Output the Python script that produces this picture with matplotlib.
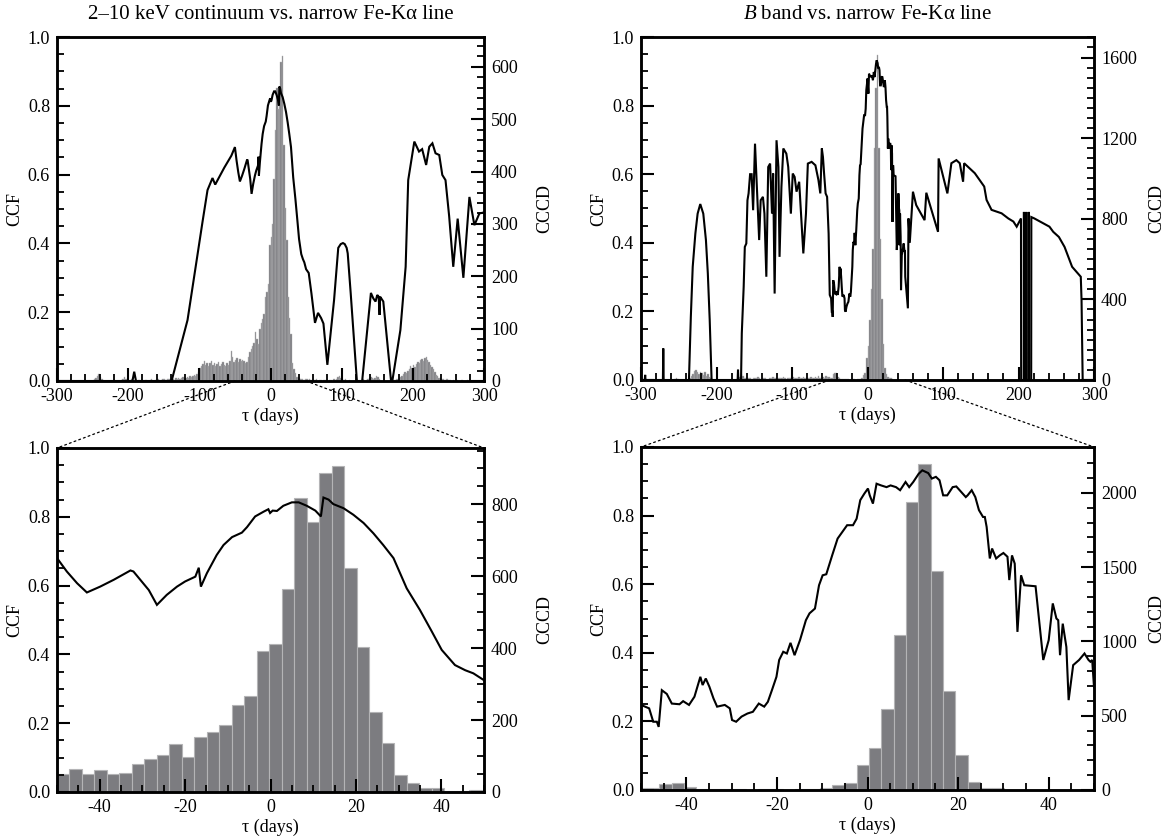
import numpy as np
import matplotlib
matplotlib.use("Agg")
import matplotlib.pyplot as plt
from matplotlib.patches import ConnectionPatch
from matplotlib.ticker import MultipleLocator, FormatStrFormatter

plt.rcParams['font.family'] = ['Liberation Serif', 'DejaVu Serif']
plt.rcParams['mathtext.fontset'] = 'custom'
plt.rcParams['mathtext.rm'] = 'Liberation Serif'
plt.rcParams['mathtext.it'] = 'Liberation Serif:italic'
plt.rcParams['axes.unicode_minus'] = False

# ---- CCF curves (tau in days, CCF) ----
xray_tau = [-300, -194, -191.5, -189, -139, -116.6, -95.5, -88.5, -81.5, -77.7, -65, -55,
            -50.0, -47.7, -45.3, -43.0, -39.9, -36.7, -32.8, -32.1, -30.5, -28.5, -26.6, -24.3,
            -21.9, -20.0, -17.6, -16.8, -16.3, -14.9, -12.6, -11.0, -9.0, -6.7, -5.5, -3.6,
            -1.6, -0.5, -0.1, 0.5, 1.5, 3.0, 5.0, 6.6, 8.5, 10.5, 11.8, 12.4, 13.6, 14.7,
            17.1, 19.4, 21.8, 24.1, 26.4, 28.8, 31.9, 35.0, 37.8, 40.1, 43.2, 45.6, 47.5, 50.0,
            53.7, 57.5, 62.5, 66.8, 71.1, 74.4, 79.9, 89.3, 95.2, 98.7, 101.8, 104.3, 107.0,
            108.5, 112.7, 121.4, 128.8, 141.1, 144.5, 147.6, 150.0, 152.0, 153.3, 154.0, 156.3,
            158.5, 169.4, 171.2, 182.5, 189.9, 193.5, 202.1, 208.7, 213.1, 218.7, 223.1, 227.5,
            231.9, 237.1, 241.4, 245.9, 251.0, 256.8, 263.0, 271.0, 279.5, 286.5, 293.5, 300.0]
xray_ccf = [0, 0, 0.027, 0, 0, 0.177, 0.463, 0.555, 0.59, 0.571, 0.62, 0.655,
            0.680, 0.641, 0.607, 0.580, 0.597, 0.617, 0.644, 0.641, 0.617, 0.587, 0.544, 0.573,
            0.597, 0.612, 0.626, 0.652, 0.597, 0.636, 0.689, 0.718, 0.741, 0.754, 0.770, 0.801,
            0.815, 0.822, 0.811, 0.818, 0.817, 0.832, 0.842, 0.842, 0.832, 0.818, 0.801, 0.856,
            0.850, 0.837, 0.825, 0.806, 0.782, 0.752, 0.718, 0.680, 0.592, 0.529, 0.466, 0.413,
            0.369, 0.354, 0.345, 0.325,
            0.314, 0.255, 0.169, 0.198, 0.183, 0.167, 0.047, 0.235, 0.387, 0.398, 0.401, 0.398,
            0.387, 0.371, 0.255, 0, 0, 0.256, 0.24, 0.231, 0.25, 0.245, 0.192, 0.245, 0.238,
            0.231, 0, 0, 0.148, 0.332, 0.584, 0.696, 0.667, 0.674, 0.628, 0.681, 0.691,
            0.662, 0.657, 0.599, 0.584, 0.48, 0.332, 0.472, 0.30, 0.535, 0.453, 0.487, 0.49]

bband_tau = [-300, -295, -294.5, -294, -271, -270.5, -270, -236.5, -234, -231.5, -228, -225,
             -221.5, -217.5, -214, -211.5, -209, -206.5, -172, -171.5, -171, -167.5, -166.5,
             -164, -162.5, -160.5, -159, -157.5, -155.5, -153.5, -151.5, -149, -146.5, -143.5,
             -141.5, -138.5, -136.5, -134, -131.5, -129, -126.5, -125, -123, -120.5, -118,
             -116.5, -114, -111.5, -107.5, -105, -101.5, -99, -96.5, -94, -90.5, -85, -81.5,
             -79, -74, -69, -65, -62.5, -60.5, -59, -57.5, -55.5, -53.5, -51.5,
             -50.0, -48.2, -47.3, -46.5, -46.1, -45.4, -44.3, -43.2, -41.5, -40.7, -39.4, -38.2,
             -36.9, -36.4, -35.7, -34.9, -34.0, -33.2, -31.5, -30.4, -29.9, -29.0, -27.8, -26.5,
             -25.3, -24.0, -22.8, -22.0, -21.1, -20.1, -19.5, -18.6, -17.8, -17.0, -16.1, -14.9,
             -13.6, -12.8, -11.6, -10.7, -9.9, -9.1, -7.8, -6.6, -5.3, -4.5, -3.2, -2.4, -1.6,
             -0.7, 0.1, 0.5, 1.2, 2.0, 3.0, 4.2, 5.1, 6.3, 7.2, 8.4, 9.2, 10.1, 11.3, 12.1, 13.4,
             14.2, 15.1, 15.9, 16.7, 17.6, 18.8, 19.6, 20.9, 21.7, 22.1, 23.0, 23.8, 24.6, 25.5,
             25.9, 26.3, 27.0, 27.5, 28.4, 29.2, 30.0, 30.9, 31.3, 31.9, 32.5, 33.1, 33.9, 34.6,
             37.1, 38.8, 40.0, 40.9, 41.7, 42.1, 42.5, 43.1, 43.9, 44.4, 45.4, 46.7, 47.9, 48.8,
             49.2, 49.6, 50.0,
             53.5, 54.3, 56.0, 60.2, 64.5, 75.6, 77.9, 93.4, 94.2, 105.8, 111.1, 117.7, 122.2,
             126.6, 128.0, 142.1, 154.6, 157.7, 164.3, 177.6, 186.5, 193.2, 197.6, 203.3, 203.5,
             207.0, 207.2, 207.4, 210.0, 210.2, 210.4, 213.5, 213.7, 213.9, 216.8, 217.0,
             221.0, 233.5, 241.0, 246.0, 253.5, 261.0, 266.0, 271.0, 278.5, 282.5,
             283.5, 285.0, 300.0]
bband_ccf = [0, 0, 0.015, 0, 0, 0.092, 0, 0, 0.184, 0.33, 0.427, 0.485,
             0.513, 0.485, 0.408, 0.311, 0.175, 0, 0, 0.03, 0, 0, 0.136,
             0.272, 0.388, 0.398, 0.524, 0.544, 0.60, 0.60, 0.495, 0.689, 0.563, 0.408,
             0.524, 0.534, 0.485, 0.301, 0.621, 0.631, 0.485, 0.602, 0.252, 0.699, 0.621,
             0.359, 0.563, 0.675, 0.66, 0.621, 0.485, 0.602, 0.592, 0.549, 0.578, 0.369, 0.485,
             0.631, 0.636, 0.626, 0.583, 0.544, 0.675, 0.65, 0.602, 0.544, 0.534, 0.427,
             0.248, 0.238, 0.199, 0.199, 0.184, 0.291, 0.280, 0.252, 0.250, 0.259, 0.248, 0.272,
             0.330, 0.306, 0.325, 0.301, 0.267, 0.243, 0.248, 0.238, 0.204, 0.199, 0.214, 0.223,
             0.228, 0.252, 0.243, 0.257, 0.291, 0.330, 0.379, 0.403, 0.398, 0.429, 0.393, 0.437,
             0.495, 0.515, 0.529, 0.597, 0.626, 0.629, 0.684, 0.733, 0.757, 0.772, 0.772, 0.791,
             0.845, 0.864, 0.879, 0.859, 0.835, 0.893, 0.888, 0.883, 0.888, 0.883, 0.874, 0.898,
             0.883, 0.898, 0.922, 0.932, 0.924, 0.908, 0.913, 0.903, 0.859, 0.859, 0.883, 0.885,
             0.866, 0.854, 0.859, 0.874, 0.854, 0.816, 0.796, 0.796, 0.767, 0.675, 0.704, 0.675,
             0.684, 0.691, 0.680, 0.612, 0.684, 0.660, 0.461, 0.626, 0.597, 0.594, 0.379, 0.437,
             0.544, 0.500, 0.495, 0.393, 0.485, 0.417, 0.262, 0.364, 0.379, 0.398, 0.379, 0.374,
             0.379, 0.301,
             0.209, 0.471, 0.40, 0.549, 0.510, 0.466, 0.546, 0.432, 0.646, 0.544, 0.632, 0.641,
             0.632, 0.578, 0.632, 0.603, 0.564, 0.525, 0.496, 0.486, 0.471, 0.462, 0.447, 0.471,
             0, 0, 0.49, 0, 0, 0.49, 0, 0, 0.49, 0, 0, 0.475,
             0.471, 0.456, 0.447, 0.432, 0.417, 0.388, 0.359, 0.330, 0.311, 0.301,
             0.233, 0, 0]

# ---- CCCD histograms ----
# top panels: 2-day bins from -300 to 300
top_bin_start, top_bin_width = -300, 2
xray_top_counts = [
    0, 0, 0, 0, 0, 0, 0, 0, 0, 0,
    0, 0, 0, 0, 0, 0, 0, 0, 0, 0,
    0, 0, 0, 0, 0, 0, 3, 6, 10, 14,
    8, 3, 0, 0, 0, 0, 0, 0, 0, 0,
    0, 0, 0, 0, 0, 2, 4, 8, 3, 0,
    0, 0, 3, 2, 0, 0, 0, 2, 0, 0,
    0, 0, 2, 0, 0, 2, 3, 0, 0, 2,
    2, 3, 0, 2, 3, 4, 2, 3, 4, 3,
    3, 4, 2, 5, 3, 6, 4, 5, 7, 5,
    6, 8, 5, 9, 7, 10, 12, 9, 14, 18,
    24, 28, 33, 38, 30, 35, 28, 34, 38, 30,
    35, 28, 32, 36, 28, 33, 37, 30, 29, 35,
    30, 38, 57, 45, 36, 40, 44, 36, 42, 38,
    41, 38, 35, 36, 45, 55, 62, 66, 72, 94,
    80, 70, 100, 110, 118, 128, 160, 170, 185, 260,
    275, 300, 385, 480, 560, 520, 560, 610, 621, 450,
    330, 270, 160, 120, 90, 35, 22, 16, 8, 8,
    6, 3, 3, 2, 3, 4, 2, 3, 1, 2,
    2, 1, 3, 0, 2, 1, 0, 2, 1, 0,
    0, 2, 1, 0, 3, 2, 4, 8, 10, 5,
    4, 2, 3, 0, 0, 2, 0, 0, 0, 0,
    0, 0, 0, 0, 2, 3, 0, 2, 4, 6,
    8, 5, 4, 6, 10, 8, 3, 0, 0, 0,
    0, 0, 0, 0, 0, 2, 0, 2, 3, 4,
    6, 8, 10, 14, 18, 16, 20, 22, 28, 24,
    30, 26, 32, 36, 34, 40, 42, 38, 44, 46,
    40, 36, 30, 26, 22, 18, 12, 10, 6, 5,
    4, 3, 2, 3, 4, 2, 2, 0, 2, 0,
    0, 2, 0, 0, 2, 0, 0, 0, 2, 0,
    0, 0, 0, 0, 0, 0, 0, 0, 0, 0]
bband_top_counts = [
    0, 0, 0, 0, 0, 0, 0, 0, 0, 0,
    0, 0, 0, 0, 0, 0, 0, 0, 0, 0,
    0, 0, 5, 8, 5, 0, 0, 0, 0, 0,
    0, 0, 8, 20, 30, 45, 48, 40, 30, 42,
    35, 25, 40, 20, 30, 15, 8, 0, 0, 0,
    0, 0, 0, 0, 0, 0, 0, 0, 0, 0,
    0, 0, 0, 0, 0, 15, 30, 20, 10, 8,
    12, 8, 10, 6, 12, 8, 10, 14, 8, 6,
    10, 8, 12, 6, 4, 10, 8, 14, 10, 8,
    6, 10, 12, 8, 14, 10, 6, 12, 8, 10,
    14, 10, 8, 12, 16, 10, 8, 14, 12, 10,
    8, 12, 16, 10, 12, 14, 10, 18, 12, 10,
    14, 12, 18, 14, 16, 8, 8, 28, 34, 36,
    16, 8, 7, 6, 6, 5, 5, 5, 2, 3,
    5, 5, 2, 6, 7, 6, 9, 25, 33, 110,
    170, 300, 450, 650, 1150, 1450, 1615, 1150, 700, 400,
    180, 60, 30, 14, 12, 8, 4, 2, 2, 0,
    0, 2, 0, 0, 0, 0, 0, 0, 0, 0,
    0, 0, 0, 0, 0, 0, 0, 0, 0, 0,
    0, 0, 0, 0, 0, 0, 0, 0, 0, 0,
    0, 0, 0, 0, 0, 0, 0, 0, 0, 0,
    0, 0, 0, 0, 0, 0, 0, 0, 0, 0,
    0, 0, 0, 0, 0, 0, 0, 0, 0, 0,
    0, 0, 0, 0, 0, 0, 0, 0, 0, 0,
    0, 0, 0, 0, 0, 0, 0, 0, 0, 0,
    0, 0, 0, 0, 0, 0, 0, 0, 0, 0,
    0, 0, 0, 0, 0, 0, 0, 0, 0, 0,
    0, 0, 0, 0, 0, 0, 0, 0, 0, 0,
    0, 0, 0, 0, 0, 0, 0, 0, 0, 0,
    0, 0, 0, 0, 0, 0, 0, 0, 0, 0]

# bottom (zoomed) panels
xray_zoom_start, xray_zoom_width = -50.0, 2.925
xray_zoom_counts = [49, 65, 49, 60, 51, 53, 77, 92, 103, 133, 97, 154, 168, 187, 241, 266,
                    392, 411, 565, 817, 751, 887, 908, 624, 404, 222, 137, 47, 26, 11, 12,
                    4, 4, 5, 4]
bband_zoom_start, bband_zoom_width = -51.36, 2.72
bband_zoom_counts = [11, 11, 40, 49, 22, 9, 9, 7, 7, 2, 7, 7, 2, 9, 9, 13, 34, 45, 168, 280,
                     543, 1043, 1939, 2197, 1475, 668, 235, 52, 16, 16, 2, 2, 1, 0, 0, 0, 0, 0]

titles = ["2\u201310 keV continuum vs. narrow Fe-K\u03b1 line",
          "$\\mathit{B}$ band vs. narrow Fe-K\u03b1 line"]

BAR = '#7c7c80'
BAR_EDGE = '#b4b4b6'
FS = 13


def edges_of(start, width, counts):
    return start + width * np.arange(len(counts) + 1)


def panel(ax, tau, ccf, edges, counts, cccd_top, xlim, xmaj, xmin, rmaj, rmin, edge_lw):
    ax2 = ax.twinx()
    ax2.bar(edges[:-1], counts, width=np.diff(edges), align='edge',
            color=BAR, edgecolor=BAR_EDGE, linewidth=edge_lw)
    ax2.set_ylim(0, cccd_top)
    ax.plot(tau, ccf, color='k', lw=1.5, solid_joinstyle='miter')
    ax.set_zorder(ax2.get_zorder() + 1)
    ax.patch.set_visible(False)

    ax.set_xlim(*xlim)
    ax.set_ylim(0, 1)
    ax.xaxis.set_major_locator(MultipleLocator(xmaj))
    ax.xaxis.set_minor_locator(MultipleLocator(xmin))
    ax.yaxis.set_major_locator(MultipleLocator(0.2))
    ax.yaxis.set_minor_locator(MultipleLocator(0.05))
    ax.yaxis.set_major_formatter(FormatStrFormatter('%.1f'))
    ax2.yaxis.set_major_locator(MultipleLocator(rmaj))
    ax2.yaxis.set_minor_locator(MultipleLocator(rmin))

    for a in (ax, ax2):
        for s in a.spines.values():
            s.set_linewidth(1.8)
        a.tick_params(which='both', direction='in', labelsize=FS)
        a.tick_params(which='major', length=9.5, width=1.5)
        a.tick_params(which='minor', length=5, width=1.3)
    ax.tick_params(which='both', top=False, right=False, pad=5)
    ax2.tick_params(which='both', left=False, pad=5)
    ax.set_xlabel('\u03c4 (days)', fontsize=FS, labelpad=2)
    ax.set_ylabel('CCF', fontsize=FS, labelpad=3)
    ax2.set_ylabel('CCCD', fontsize=FS, labelpad=13)
    return ax2


fig = plt.figure(figsize=(11.69, 8.40), dpi=100)
W, H = 1169.0, 840.0


def rect(x0, y0, x1, y1):
    return [x0 / W, 1 - y1 / H, (x1 - x0) / W, (y1 - y0) / H]


ax_tl = fig.add_axes(rect(57, 37, 484, 381))
ax_tr = fig.add_axes(rect(641, 37, 1094, 380))
ax_bl = fig.add_axes(rect(57, 448, 484, 792))
ax_br = fig.add_axes(rect(641, 447, 1094, 790))

panel(ax_tl, xray_tau, xray_ccf, edges_of(top_bin_start, top_bin_width, xray_top_counts),
      xray_top_counts, 657, (-300, 300), 100, 20, 100, 20, 0.3)
ax2_tr = panel(ax_tr, bband_tau, bband_ccf, edges_of(top_bin_start, top_bin_width, bband_top_counts),
               bband_top_counts, 1702, (-300, 300), 100, 20, 400, 50, 0.3)
panel(ax_bl, xray_tau, xray_ccf, edges_of(xray_zoom_start, xray_zoom_width, xray_zoom_counts),
      xray_zoom_counts, 957, (-50, 50), 20, 5, 200, 50, 0.8)
ax2_br = panel(ax_br, bband_tau, bband_ccf, edges_of(bband_zoom_start, bband_zoom_width, bband_zoom_counts),
               bband_zoom_counts, 2309, (-50, 50), 20, 5, 500, 100, 0.8)
# right-hand panels sit closer to the figure edge
ax2_tr.yaxis.labelpad = 8
ax2_br.yaxis.labelpad = 8

ax_tl.set_title(titles[0], fontsize=15, pad=13)
ax_tr.set_title(titles[1], fontsize=15, pad=13)

# dotted lines marking the zoomed window
for top, bot in ((ax_tl, ax_bl), (ax_tr, ax_br)):
    for x in (-50, 50):
        con = ConnectionPatch(xyA=(x, 0), coordsA='data', axesA=top,
                              xyB=(x, 1), coordsB='data', axesB=bot,
                              color='k', lw=0.9, linestyle=(0, (1.5, 2.5)))
        fig.add_artist(con)

fig.savefig('out.png', dpi=100)
